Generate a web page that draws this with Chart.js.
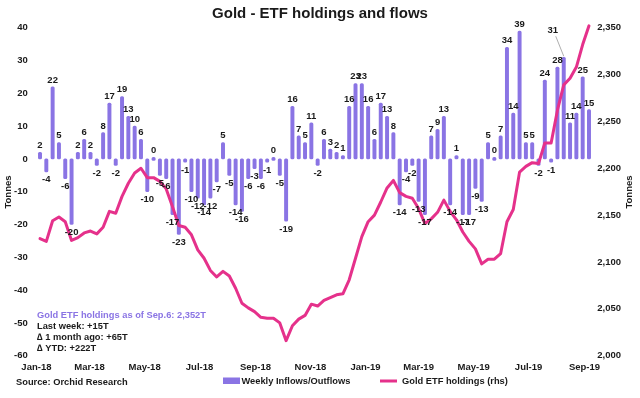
<!DOCTYPE html>
<html><head><meta charset="utf-8">
<script src="https://cdn.jsdelivr.net/npm/chart.js@4.4.1/dist/chart.umd.min.js"></script>
<style>html,body{margin:0;padding:0;background:#fff;}#wrap{width:640px;height:398px;}</style>
</head><body><div id="wrap"><canvas id="c" width="640" height="398"></canvas></div>
<script>
// ---------- DATA ----------
const firstWeek = '2018-01-05';          // week ending date of first bar
const weeklyFlows = [2,-4,22,5,-6,-20,2,6,2,-2,8,17,-2,19,13,10,6,-10,0,-5,-6,-17,-23,-1,-10,-12,-14,-12,-7,
  5,-5,-14,-16,-6,-3,-6,-1,0,-5,-19,16,7,5,11,-2,6,3,2,1,16,23,23,16,6,17,13,8,
  -14,-4,-2,-13,-17,7,9,13,-14,1,-17,-17,-9,-13,5,0,7,34,14,39,5,5,-2,24,-1,28,31,11,14,25,15];
const etfHoldings = [2125,2122,2144,2148,2143,2123,2126,2131,2133,2130,
  2137,2154,2152,2170,2184,2195,2200,2190,2190,2186,
  2178,2159,2139,2137,2129,2113,2104,2091,2084,2090,
  2085,2072,2056,2051,2047,2041,2040,2040,2035,2016,
  2032,2039,2043,2055,2053,2059,2062,2065,2066,2081,
  2104,2127,2143,2150,2164,2179,2187,2174,2170,2168,
  2157,2141,2146,2153,2166,2154,2145,2132,2122,2114,
  2098,2103,2103,2109,2143,2156,2196,2202,2206,2205,
  2227,2227,2262,2289,2296,2308,2332,2352];
const tickLabels = ['Jan-18','Mar-18','May-18','Jul-18','Sep-18','Nov-18','Jan-19','Mar-19','May-19','Jul-19','Sep-19'];
const tickDates  = ['2018-01-01','2018-03-01','2018-05-01','2018-07-01','2018-09-01','2018-11-01','2019-01-01','2019-03-01','2019-05-01','2019-07-01','2019-09-01'];
const leftTicks = {min:-60, max:40, step:10};
const rightTicks = {min:2000, max:2350, step:50};
const seriesNames = ['Weekly Inflows/Outflows','Gold ETF holdings (rhs)'];
const titleText = 'Gold - ETF holdings and flows';
const axisTitle = 'Tonnes';
const noteLines = ['Gold ETF holdings as of Sep.6: 2,352T','Last week: +15T','\u2206 1 month ago: +65T','\u2206 YTD: +222T'];
const sourceText = 'Source: Orchid Research';

// ---------- BUILD ----------
const WEEK = 7*864e5;
const t0 = Date.parse(firstWeek);
const weekIdx = d => (Date.parse(d) - t0) / WEEK;
const tickPos = tickDates.map(weekIdx);
const barData = weeklyFlows.map((v,i)=>({x:i, y:v}));
const lineData = etfHoldings.map((v,i)=>({x:i, y:v}));

const FONT = '"Liberation Sans", Arial, sans-serif';
const PURPLE = '#8A74E4';
const PINK = '#E5318B';
const TXT = '#1a1a1a';

const labelNudge = {83:[-11,-20]}; // leader-line label (31)

const drawPlugin = {
  id:'drawTexts',
  afterDatasetsDraw(chart){
    const ctx = chart.ctx;
    const meta = chart.getDatasetMeta(1);
    ctx.save();
    ctx.font = 'bold 9.5px ' + FONT;
    ctx.fillStyle = TXT;
    ctx.textAlign = 'center';
    meta.data.forEach((el,i)=>{
      const v = weeklyFlows[i];
      let x = el.x, y;
      if (v >= 0){ ctx.textBaseline='bottom'; y = Math.min(el.y, el.base) - 2; }
      else { ctx.textBaseline='top'; y = Math.max(el.y, el.base) + 3; }
      if (labelNudge[i]){
        const [dx,dy] = labelNudge[i];
        ctx.strokeStyle = '#999'; ctx.lineWidth = 0.8;
        ctx.beginPath(); ctx.moveTo(x+dx+3, y+dy+1); ctx.lineTo(x, el.y-1); ctx.stroke();
        x += dx; y += dy;
      }
      ctx.fillText(String(v), x, y);
    });
    ctx.restore();
  },
  afterDraw(chart){
    const ctx = chart.ctx;
    ctx.save();
    ctx.fillStyle = TXT;
    ctx.font = 'bold 15px ' + FONT;
    ctx.textAlign = 'center'; ctx.textBaseline = 'middle';
    ctx.fillText(titleText, 320, 14);
    ctx.font = 'bold 9.5px ' + FONT;
    [[8,192],[629,192]].forEach(([x,y])=>{
      ctx.save(); ctx.translate(x,y); ctx.rotate(-Math.PI/2);
      ctx.textAlign='center'; ctx.textBaseline='middle';
      ctx.fillText(axisTitle,0,0); ctx.restore();
    });
    ctx.textAlign='left'; ctx.textBaseline='middle';
    ctx.font = 'bold 9.3px ' + FONT;
    const ny = [315, 326, 337.5, 348.5];
    noteLines.forEach((t,i)=>{
      ctx.fillStyle = i===0 ? PURPLE : TXT;
      ctx.fillText(t, 37, ny[i]);
    });
    ctx.fillStyle = TXT;
    ctx.fillText(sourceText, 16, 382.5);
    ctx.fillStyle = PURPLE;
    ctx.fillRect(223, 377.5, 17, 6.5);
    ctx.fillStyle = TXT;
    ctx.fillText(seriesNames[0], 241.5, 381);
    ctx.strokeStyle = PINK; ctx.lineWidth = 3;
    ctx.beginPath(); ctx.moveTo(380,381); ctx.lineTo(397,381); ctx.stroke();
    ctx.fillText(seriesNames[1], 402, 381);
    ctx.restore();
  }
};

const tickFont = {family: FONT, size: 9.5, weight: 'bold'};

new Chart(document.getElementById('c'), {
  type:'bar',
  data:{
    datasets:[
      {type:'line', label:seriesNames[1], data:lineData, yAxisID:'y2', borderColor:PINK, borderWidth:3,
        pointRadius:0, tension:0, order:1, clip:false, borderJoinStyle:'round', borderCapStyle:'round'},
      {type:'bar', label:seriesNames[0], data:barData, yAxisID:'y', backgroundColor:PURPLE,
        barThickness:3.3, minBarLength:3, borderRadius:1.5, borderSkipped:false, order:2}
    ]
  },
  options:{
    responsive:false, animation:false, devicePixelRatio:1,
    layout:{padding:{top:27.7, bottom:0, left:0, right:0}},
    plugins:{legend:{display:false}, tooltip:{enabled:false}, title:{display:false}},
    scales:{
      x:{type:'linear', min:-1, max:88, offset:false,
        grid:{display:false, drawTicks:false, offset:false}, border:{display:false},
        afterBuildTicks:s=>{ s.ticks = tickPos.map(v=>({value:v})); },
        afterFit:s=>{ s.height = 42.3; },
        ticks:{autoSkip:false, maxRotation:0, minRotation:0, padding:6, color:TXT, font:tickFont,
          callback:(v,i)=>tickLabels[i]}
      },
      y:{position:'left', min:leftTicks.min, max:leftTicks.max,
        grid:{display:false, drawTicks:false}, border:{display:false},
        afterFit:s=>{ s.width = 33.7; },
        ticks:{stepSize:leftTicks.step, padding:6, color:TXT, font:tickFont}
      },
      y2:{position:'right', min:rightTicks.min, max:rightTicks.max,
        grid:{display:false, drawTicks:false}, border:{display:false},
        afterFit:s=>{ s.width = 44.7; },
        ticks:{stepSize:rightTicks.step, padding:2, color:TXT, font:tickFont,
          callback:v=>v.toLocaleString('en-US')}
      }
    }
  },
  plugins:[drawPlugin]
});
</script>
</body></html>
